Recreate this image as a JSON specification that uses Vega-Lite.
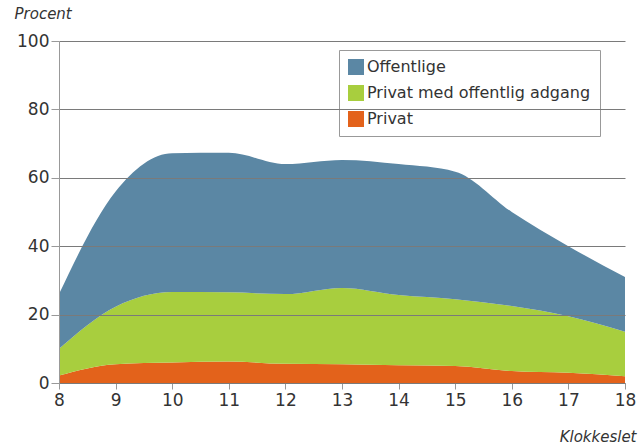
{
  "$schema": "https://vega.github.io/schema/vega-lite/v6.json",
  "width": 566,
  "height": 342,
  "autosize": "none",
  "padding": {"left": 59, "top": 41, "right": 16, "bottom": 65},
  "background": "white",
  "data": {
    "values": [
      {"hour": 8, "cat": "Privat", "value": 2.2},
      {"hour": 9, "cat": "Privat", "value": 5.5},
      {"hour": 10, "cat": "Privat", "value": 6},
      {"hour": 11, "cat": "Privat", "value": 6.3},
      {"hour": 12, "cat": "Privat", "value": 5.6},
      {"hour": 13, "cat": "Privat", "value": 5.5},
      {"hour": 14, "cat": "Privat", "value": 5.2},
      {"hour": 15, "cat": "Privat", "value": 5},
      {"hour": 16, "cat": "Privat", "value": 3.5},
      {"hour": 17, "cat": "Privat", "value": 3},
      {"hour": 18, "cat": "Privat", "value": 2},
      {"hour": 8, "cat": "Privat med offentlig adgang", "value": 7.8},
      {"hour": 9, "cat": "Privat med offentlig adgang", "value": 16.8},
      {"hour": 10, "cat": "Privat med offentlig adgang", "value": 20.6},
      {"hour": 11, "cat": "Privat med offentlig adgang", "value": 20.2},
      {"hour": 12, "cat": "Privat med offentlig adgang", "value": 20.4},
      {"hour": 13, "cat": "Privat med offentlig adgang", "value": 22.3},
      {"hour": 14, "cat": "Privat med offentlig adgang", "value": 20.5},
      {"hour": 15, "cat": "Privat med offentlig adgang", "value": 19.5},
      {"hour": 16, "cat": "Privat med offentlig adgang", "value": 19},
      {"hour": 17, "cat": "Privat med offentlig adgang", "value": 16.5},
      {"hour": 18, "cat": "Privat med offentlig adgang", "value": 13},
      {"hour": 8, "cat": "Offentlige", "value": 16},
      {"hour": 9, "cat": "Offentlige", "value": 33.7},
      {"hour": 10, "cat": "Offentlige", "value": 40.6},
      {"hour": 11, "cat": "Offentlige", "value": 40.8},
      {"hour": 12, "cat": "Offentlige", "value": 38},
      {"hour": 13, "cat": "Offentlige", "value": 37.4},
      {"hour": 14, "cat": "Offentlige", "value": 38.3},
      {"hour": 15, "cat": "Offentlige", "value": 37.3},
      {"hour": 16, "cat": "Offentlige", "value": 27.5},
      {"hour": 17, "cat": "Offentlige", "value": 20.5},
      {"hour": 18, "cat": "Offentlige", "value": 16}
    ]
  },
  "transform": [
    {"calculate": "indexof(['Privat','Privat med offentlig adgang','Offentlige'], datum.cat)", "as": "stackorder"}
  ],
  "mark": {"type": "area", "interpolate": "monotone", "opacity": 1},
  "encoding": {
    "x": {
      "field": "hour",
      "type": "quantitative",
      "scale": {"domain": [8, 18], "nice": false, "zero": false},
      "axis": {
        "values": [8, 9, 10, 11, 12, 13, 14, 15, 16, 17, 18],
        "format": "d",
        "grid": false,
        "title": "Klokkeslet",
        "titleFontStyle": "italic",
        "titleFontWeight": "normal",
        "titleFontSize": 15,
        "titleColor": "#333333",
        "titleAlign": "right",
        "titleAnchor": null,
        "titleBaseline": "alphabetic",
        "titleX": 577,
        "titleY": 58,
        "labelFontSize": 17,
        "labelColor": "#333333",
        "labelPadding": 3,
        "tickSize": 6,
        "tickColor": "#999999",
        "domainColor": "#999999",
        "labelFlush": false
      }
    },
    "y": {
      "field": "value",
      "type": "quantitative",
      "stack": "zero",
      "scale": {"domain": [0, 100], "nice": false},
      "axis": {
        "values": [0, 20, 40, 60, 80, 100],
        "title": "Procent",
        "titleAngle": 0,
        "titleFontStyle": "italic",
        "titleFontWeight": "normal",
        "titleFontSize": 15,
        "titleColor": "#333333",
        "titleAlign": "left",
        "titleAnchor": null,
        "titleBaseline": "alphabetic",
        "titleX": -45,
        "titleY": -23,
        "labelFontSize": 17,
        "labelColor": "#333333",
        "labelPadding": 2,
        "tickSize": 8,
        "tickColor": "#999999",
        "domainColor": "#999999",
        "gridColor": "#7a7a7a",
        "gridWidth": 1,
        "zindex": 1
      }
    },
    "color": {
      "field": "cat",
      "type": "nominal",
      "scale": {
        "domain": ["Offentlige", "Privat med offentlig adgang", "Privat"],
        "range": ["#5b87a4", "#a8ce3e", "#e3621b"]
      },
      "legend": {
        "title": null,
        "orient": "none",
        "legendX": 280,
        "legendY": 9,
        "direction": "vertical",
        "symbolType": "square",
        "symbolSize": 256,
        "symbolStrokeWidth": 0,
        "symbolOpacity": 1,
        "labelFontSize": 16,
        "labelColor": "#333333",
        "labelOffset": 3,
        "rowPadding": 10,
        "strokeColor": "#999999",
        "padding": 9,
        "fillColor": "white",
        "labelLimit": 300
      }
    },
    "order": {"field": "stackorder", "type": "quantitative", "sort": "ascending"}
  },
  "config": {
    "font": "DejaVu Sans",
    "view": {"stroke": null}
  }
}
